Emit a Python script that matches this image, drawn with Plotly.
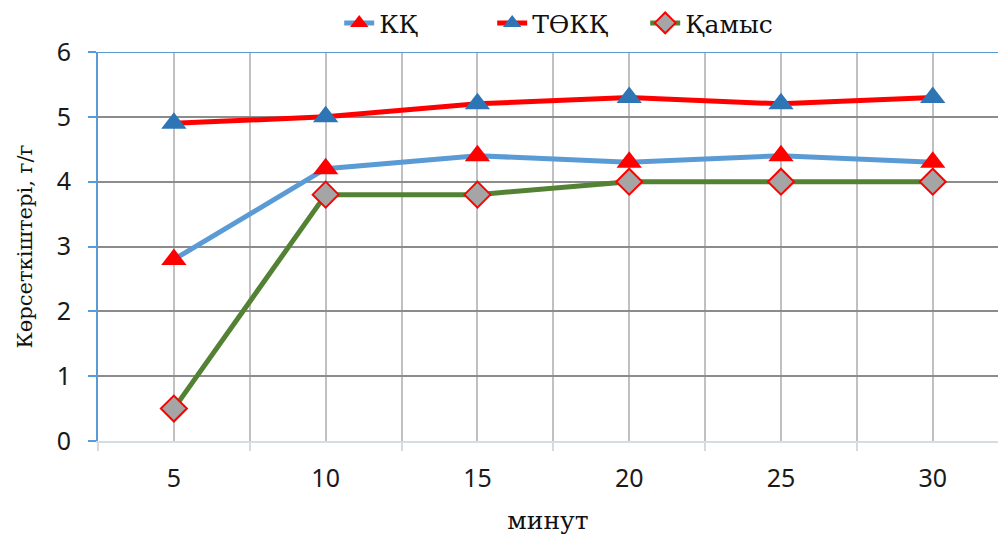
import plotly.graph_objects as go

minutes = [5, 10, 15, 20, 25, 30]
kk = [2.8, 4.2, 4.4, 4.3, 4.4, 4.3]
tokk = [4.9, 5.0, 5.2, 5.3, 5.2, 5.3]
qamys = [0.5, 3.8, 3.8, 4.0, 4.0, 4.0]
y_ticks = [0, 1, 2, 3, 4, 5, 6]

SERIF = "DejaVu Serif, Liberation Serif, serif"
SANS = "Noto Sans, Open Sans, sans-serif"

fig = go.Figure()
fig.add_trace(go.Scatter(
    x=minutes, y=kk, name="КҚ", mode="lines+markers",
    line=dict(color="#5b9bd5", width=5),
    marker=dict(symbol="triangle-up", size=22, color="#ff0000", line=dict(width=0)),
))
fig.add_trace(go.Scatter(
    x=minutes, y=tokk, name="ТӨКҚ", mode="lines+markers",
    line=dict(color="#ff0000", width=5),
    marker=dict(symbol="triangle-up", size=22, color="#2e75b6", line=dict(width=0)),
))
fig.add_trace(go.Scatter(
    x=minutes, y=qamys, name="Қамыс", mode="lines+markers",
    line=dict(color="#548235", width=5),
    marker=dict(symbol="diamond", size=20, color="#a5a5a5", line=dict(width=2, color="#ff0000")),
))

fig.update_layout(
    width=998, height=538,
    margin=dict(l=98, r=0, t=52, b=97),
    paper_bgcolor="white", plot_bgcolor="white",
    showlegend=True,
    legend=dict(
        orientation="h", x=0.268, xanchor="left", y=1.015, yanchor="bottom",
        font=dict(family=SERIF, size=25, color="#111111"),
        itemwidth=30, traceorder="normal",
        entrywidth=108, entrywidthmode="pixels",
    ),
    xaxis=dict(
        range=[2.5, 32.15],
        tickmode="array", tickvals=minutes, ticktext=[str(m) for m in minutes],
        showgrid=True, gridcolor="#c0c0c0", gridwidth=2,
        ticks="", ticklen=0,
        minor=dict(tick0=2.5, dtick=5, showgrid=True, gridcolor="#c0c0c0", gridwidth=2,
                   ticks="outside", ticklen=8, tickcolor="#d9d9d9", tickwidth=2),
        showline=True, linecolor="#d6dce5", linewidth=2,
        zeroline=False,
        tickfont=dict(family=SANS, size=25, color="#1a1a1a"),
        title=dict(text="минут", font=dict(family=SERIF, size=25, color="#111111"), standoff=18),
        ticklabelstandoff=14,
    ),
    yaxis=dict(
        range=[0, 6],
        tickmode="array", tickvals=y_ticks,
        showgrid=True, gridcolor="#8c8c8c", gridwidth=2,
        ticks="outside", ticklen=8, tickcolor="#5b9bd5", tickwidth=2,
        showline=True, linecolor="#5b9bd5", linewidth=2,
        zeroline=False,
        tickfont=dict(family=SANS, size=25, color="#1a1a1a"),
        title=dict(text="Көрсеткіштері, г/г", font=dict(family=SERIF, size=21, color="#111111"), standoff=18),
        ticklabelstandoff=12,
    ),
    shapes=[dict(type="line", xref="paper", yref="y", x0=0, x1=1, y0=6, y1=6,
                 line=dict(color="#5b9bd5", width=2), layer="above")],
)

fig.write_html("out.html")
